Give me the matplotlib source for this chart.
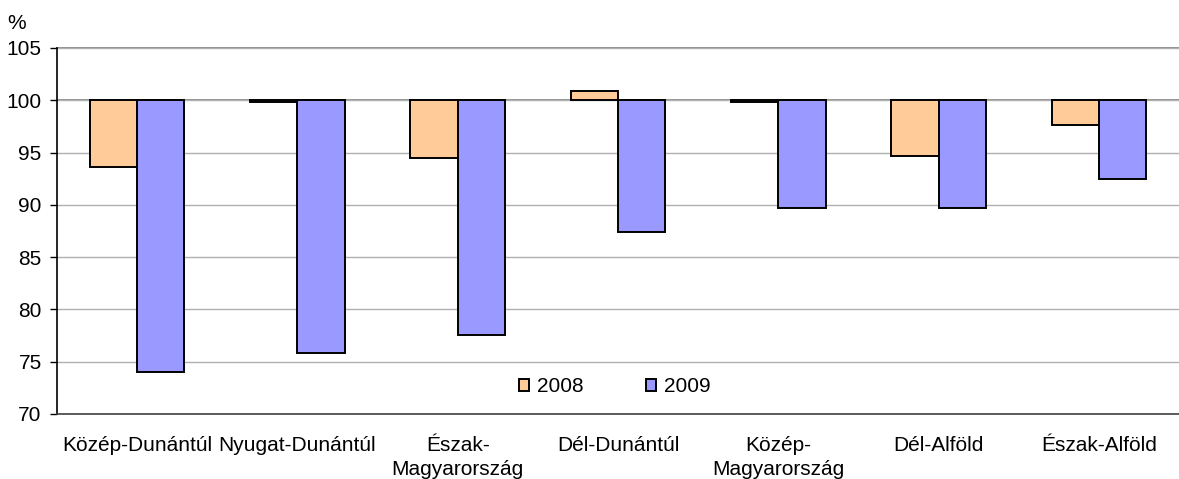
import numpy as np
import matplotlib.pyplot as plt

plt.rcParams['font.family'] = ['Liberation Sans', 'DejaVu Sans']

regions = ["Közép-Dunántúl", "Nyugat-Dunántúl", "Észak-\nMagyarország", "Dél-Dunántúl",
           "Közép-\nMagyarország", "Dél-Alföld", "Észak-Alföld"]
v2008 = [93.6, 99.8, 94.5, 100.9, 99.8, 94.7, 97.6]
v2009 = [74.0, 75.8, 77.6, 87.4, 89.7, 89.7, 92.5]
base = 100

fig = plt.figure(figsize=(11.79, 4.79), dpi=100)
ax = fig.add_axes([0.0483, 0.1357, 0.9517, 0.7641])

x = np.arange(len(regions))
w = 0.295
ax.bar(x - w / 2, np.array(v2008) - base, w, bottom=base, color='#FFCC99',
       edgecolor='black', linewidth=1.4, label='2008', zorder=3)
ax.bar(x + w / 2, np.array(v2009) - base, w, bottom=base, color='#9999FF',
       edgecolor='black', linewidth=1.4, label='2009', zorder=3)

ax.set_xlim(-0.5, len(regions) - 0.5)
ax.set_ylim(70, 105)
ax.set_yticks(np.arange(70, 106, 5))
ax.yaxis.grid(True, color='#b0b0b0', linewidth=1, zorder=0)
ax.axhline(100, color='#808080', linewidth=1.2, zorder=1)
ax.axhline(105, color='#808080', linewidth=1.2, zorder=1, clip_on=False)

ax.set_xticks(x)
ax.set_xticklabels(regions, fontsize=15, linespacing=1.3)
ax.tick_params(axis='x', length=0, pad=16)
ax.tick_params(axis='y', labelsize=15, length=5, width=1, direction='out', pad=6)

for s in ['top', 'right']:
    ax.spines[s].set_visible(False)
ax.spines['left'].set_linewidth(1.2)
ax.spines['bottom'].set_linewidth(1.2)
ax.spines['bottom'].set_color('#404040')

fig.text(0.006, 0.94, '%', fontsize=15)

ax.legend(loc='center', bbox_to_anchor=(0.497, 0.074), ncol=2, frameon=False,
          fontsize=15, handlelength=0.5, handleheight=0.5, columnspacing=3.0,
          handletextpad=0.35)

fig.savefig('out.png', dpi=100)
